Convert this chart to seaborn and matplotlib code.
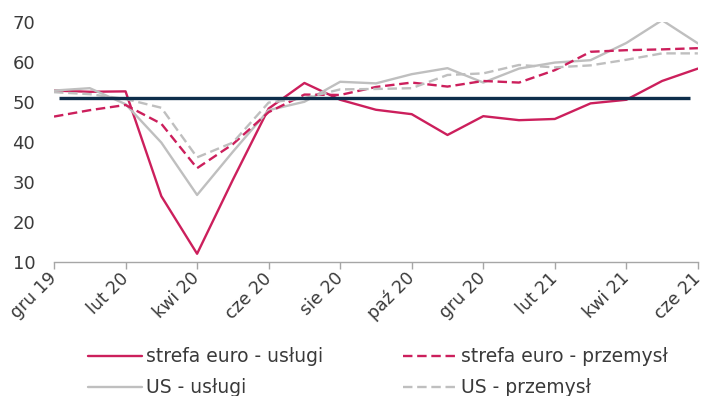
import numpy as np
import pandas as pd
import matplotlib
matplotlib.use("Agg")
import matplotlib.pyplot as plt
import seaborn as sns

# Monthly PMI readings, Dec 2019 - Jun 2021
months = ["gru 19", "sty 20", "lut 20", "mar 20", "kwi 20", "maj 20", "cze 20",
          "lip 20", "sie 20", "wrz 20", "paź 20", "lis 20", "gru 20", "sty 21",
          "lut 21", "mar 21", "kwi 21", "maj 21", "cze 21"]
ez_services = [52.8, 52.5, 52.6, 26.4, 12.0, 30.5, 48.3, 54.7, 50.5, 48.0,
               46.9, 41.7, 46.4, 45.4, 45.7, 49.6, 50.5, 55.2, 58.3]
ez_manufacturing = [46.3, 47.9, 49.2, 44.5, 33.4, 39.4, 47.4, 51.8, 51.7, 53.7,
                    54.8, 53.8, 55.2, 54.8, 57.9, 62.5, 62.9, 63.1, 63.4]
us_services = [52.8, 53.4, 49.4, 39.8, 26.7, 37.5, 47.9, 50.0, 55.0, 54.6,
               56.9, 58.4, 54.8, 58.3, 59.8, 60.4, 64.7, 70.4, 64.6]
us_manufacturing = [52.4, 51.9, 50.7, 48.5, 36.1, 39.8, 49.8, 50.9, 53.1, 53.2,
                    53.4, 56.7, 57.1, 59.2, 58.6, 59.1, 60.5, 62.1, 62.1]
threshold = 50.9

series_names = ["strefa euro - usługi", "US - usługi",
                "strefa euro - przemysł", "US - przemysł"]
series_values = [ez_services, us_services, ez_manufacturing, us_manufacturing]

RED = "#CC1F5C"
GREY = "#BFBFBF"
NAVY = "#0E2E4B"
TEXT = "#3A3A3A"
styles = {
    "strefa euro - usługi": (RED, None),
    "US - usługi": (GREY, None),
    "strefa euro - przemysł": (RED, (4, 2)),
    "US - przemysł": (GREY, (4, 2)),
}

sns.set_theme(style="white")
plt.rcParams["font.family"] = ["DejaVu Sans"]

fig = plt.figure(figsize=(7.06, 3.96), dpi=100)
ax = fig.add_axes([0.0765, 0.339, 0.912, 0.606])

idx = np.arange(len(months))
for name, vals in zip(series_names, series_values):
    df = pd.DataFrame({"m": idx, "v": vals})
    color, dash = styles[name]
    sns.lineplot(data=df, x="m", y="v", ax=ax, color=color, linewidth=1.7,
                 label=name, zorder=3)
    line = ax.get_lines()[-1]
    if dash is not None:
        line.set_dashes(dash)

ax.hlines(threshold, 0.13, 17.78, color=NAVY, linewidth=2.4, zorder=4)

ax.set_xlim(0, len(months) - 1)
ax.set_ylim(10, 70)
ax.set_yticks(range(10, 71, 10))
ax.set_xticks(idx[::2])
ax.set_xticklabels(months[::2], rotation=45, ha="right", va="center",
                   rotation_mode="anchor")
ax.set_xlabel("")
ax.set_ylabel("")

for s in ["top", "right", "left"]:
    ax.spines[s].set_visible(False)
ax.spines["bottom"].set_color("#A6A6A6")
ax.spines["bottom"].set_linewidth(1.0)
ax.tick_params(axis="x", which="major", bottom=True, length=5, width=1.0,
               color="#A6A6A6", labelsize=12.5, labelcolor=TEXT, pad=5)
ax.tick_params(axis="y", left=False, labelsize=13, labelcolor=TEXT, pad=7.5)
ax.grid(False)

leg = ax.legend(loc="upper left", bbox_to_anchor=(0.041, -0.325), ncol=2,
                frameon=False, fontsize=13.5, handlelength=2.9,
                handletextpad=0.2, columnspacing=4.27, labelspacing=0.64,
                borderaxespad=0, labelcolor=TEXT)

fig.savefig("out.png", dpi=100)
